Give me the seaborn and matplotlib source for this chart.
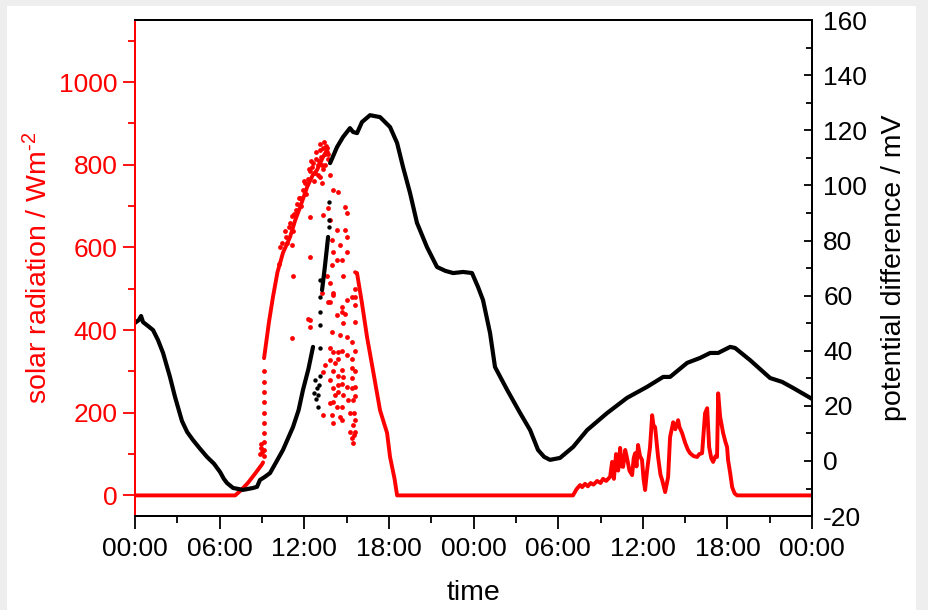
import numpy as np
import pandas as pd
import matplotlib
matplotlib.use("Agg")
import matplotlib.pyplot as plt
from matplotlib.patches import Rectangle
from matplotlib.ticker import MultipleLocator
import seaborn as sns

# ---- time axis (hours since first midnight) ----
tick_hours = [0, 6, 12, 18, 24, 30, 36, 42, 48]
tick_labels = ["00:00", "06:00", "12:00", "18:00", "00:00", "06:00", "12:00", "18:00", "00:00"]

# ---- potential difference (mV), continuous trace, split into segments ----
pd_seg0_h = [0.00, 0.28, 0.43, 0.57, 0.92, 1.28, 1.63, 1.99, 2.48, 2.84, 3.33, 3.70, 4.11,
             4.60, 5.10, 5.60, 6.03, 6.30, 6.52, 6.95, 7.66, 8.37, 8.65, 8.86, 9.20, 9.57,
             10.00, 10.49, 11.20, 11.60, 11.91, 12.30, 12.62]
pd_seg0_v = [50.1, 51.2, 52.6, 50.4, 49.0, 47.5, 43.9, 39.2, 30.5, 23.2, 14.5, 10.5, 7.6,
             4.5, 1.5, -1.0, -4.0, -6.5, -8.0, -9.8, -10.5, -9.8, -9.4, -6.9, -5.8, -4.4,
             -0.5, 4.0, 12.3, 18.5, 25.8, 33.5, 41.4]
pd_seg1_h = [13.26, 13.45, 13.69]
pd_seg1_v = [62.0, 70.0, 81.3]
pd_seg2_h = [13.83, 14.32, 14.75, 15.24, 15.46, 15.74, 16.09, 16.66, 17.37, 18.08, 18.58,
             19.00, 19.50, 19.99, 20.70, 21.41, 22.00, 22.55, 23.26, 23.89, 24.32, 24.67,
             25.17, 25.52, 26.38, 27.30, 28.01, 28.57, 29.00, 29.42, 30.13, 31.06, 32.05,
             33.47, 34.88, 36.30, 37.44, 37.93, 39.14, 40.06, 40.77, 41.34, 42.19, 42.54,
             43.60, 45.02, 45.87, 46.65, 48.00]
pd_seg2_v = [108.1, 113.9, 117.6, 120.8, 119.4, 119.0, 123.0, 125.5, 124.8, 121.2, 115.4,
             106.7, 97.2, 86.4, 77.6, 70.4, 69.0, 68.2, 68.6, 68.2, 63.1, 58.4,
             46.4, 34.1, 25.8, 17.4, 11.2, 4.0, 1.5, 0.4, 1.1, 5.1, 11.2,
             17.4, 22.9, 26.9, 30.5, 30.5, 35.6, 37.4, 39.2, 39.2, 41.4, 41.0,
             36.6, 30.1, 28.7, 26.5, 22.5]
# isolated readings of the potential difference
pd_dots_h = [12.70, 12.76, 12.85, 12.90, 12.95, 13.00, 13.05, 13.10, 13.12, 13.12, 13.12,
             13.12, 13.12, 13.76, 13.76, 13.76]
pd_dots_v = [24.7, 29.4, 22.5, 26.5, 19.5, 24.0, 27.6, 30.8, 41.0, 49.3, 54.0,
             59.5, 65.7, 84.9, 87.4, 94.0]

# ---- solar radiation (W m^-2), continuous trace, split into segments ----
sr_seg0_h = [0.0, 7.1, 7.5, 8.0, 8.5, 9.0, 9.08]
sr_seg0_v = [0, 0, 12, 30, 52, 75, 80]
sr_seg1_h = [9.15, 9.5, 9.78, 10.1, 10.49, 10.99, 11.35, 11.70, 12.2, 12.6, 12.9, 13.33, 13.69]
sr_seg1_v = [332, 420, 480, 540, 587, 625, 665, 697, 746, 775, 787, 819, 840]
sr_seg2_h = [15.60, 15.74, 16.09, 16.45, 16.87, 17.37, 17.87, 18.08, 18.40, 18.58,
             31.05, 31.30, 31.55, 31.70, 31.90, 32.10, 32.30, 32.50, 32.76, 33.00, 33.18,
             33.40, 33.68, 33.82, 33.95, 34.10, 34.25, 34.39, 34.50, 34.60, 34.75, 34.88,
             35.05, 35.24, 35.35, 35.45, 35.55, 35.66, 35.80, 35.94, 36.05, 36.16, 36.30,
             36.51, 36.66, 36.75, 36.87, 37.08, 37.25, 37.37, 37.58, 37.79, 37.93, 38.15,
             38.30, 38.50, 38.60, 38.78, 39.00, 39.20, 39.35, 39.60, 39.85, 40.00, 40.20,
             40.41, 40.56, 40.70, 40.85, 40.98, 41.15, 41.26, 41.34, 41.48, 41.69, 41.85,
             41.97, 42.04, 42.19, 42.33, 42.50, 42.68, 48.00]
sr_seg2_v = [540, 538, 465, 383, 303, 206, 151, 93, 40, 0,
             0, 15, 25, 20, 28, 22, 30, 26, 35, 30, 40,
             35, 45, 81, 40, 100, 60, 115, 70, 69, 110, 90,
             60, 49, 90, 102, 70, 122, 95, 86, 40, 13, 60,
             117, 194, 170, 165, 93, 50, 37, 8, 44, 141, 177,
             160, 182, 165, 151, 127, 110, 102, 95, 93, 100, 102,
             199, 211, 117, 90, 81, 95, 93, 247, 190, 151, 130,
             117, 86, 54, 20, 5, 0, 0]
# isolated readings (cloud passages around noon of the first day)
sr_dots_h = [9.15, 9.15, 9.15, 9.15, 9.15, 9.15, 9.15, 9.15, 9.15, 9.15,
             8.85, 8.90, 8.95, 9.00,
             10.3, 10.6, 10.8, 11.0, 11.2, 11.4, 11.6, 11.8, 12.0, 12.1, 12.3, 12.5,
             12.7, 12.8, 13.0, 13.1, 13.2, 13.4, 13.5, 13.6,
             10.2, 10.45, 10.7, 10.9, 11.1, 11.3, 11.5, 11.7, 11.9, 12.05, 12.25, 12.4,
             12.55, 12.65, 12.75, 12.85, 12.95, 13.05, 13.15, 13.25, 13.35, 13.45, 13.55,
             13.65, 13.7, 13.3, 13.15,
             11.13, 11.20, 12.27, 12.41, 12.41, 12.41, 12.41, 11.10,
             13.26, 13.83, 14.04, 14.39, 13.69, 13.33, 14.89, 15.03, 13.83, 14.32, 14.89,
             15.03, 13.97, 14.53, 14.04, 15.03, 14.32, 14.68, 13.97, 13.61, 14.75, 13.83,
             13.26, 14.04, 13.69, 15.03, 14.68,
             14.04, 13.83, 14.68, 15.39, 14.89, 15.60, 14.32, 14.75, 13.97, 14.53, 15.03,
             15.39, 13.83, 14.04, 14.39, 15.03, 13.47, 13.83, 14.18, 14.68, 15.39, 13.33,
             13.83, 14.75, 15.39, 14.39, 15.03, 15.60, 14.18, 14.75, 15.10, 13.83, 14.32,
             13.33, 13.97, 14.53, 15.24, 14.04, 14.68, 15.60, 15.24, 15.60, 15.39, 15.46,
             14.04, 14.04, 14.04, 14.39, 14.39, 14.39, 14.68, 14.68, 14.68, 15.39, 15.39,
             15.46, 15.46, 15.50, 15.50, 15.60, 15.60, 15.60, 15.60, 15.60, 15.60]
sr_dots_v = [95, 110, 130, 150, 175, 200, 225, 250, 275, 300,
             100, 115, 125, 105,
             600, 640, 610, 660, 640, 690, 720, 700, 760, 730, 790, 810,
             760, 830, 800, 850, 820, 855, 800, 830,
             560, 610, 625, 650, 675, 680, 705, 720, 740, 755, 765, 785,
             795, 805, 780, 815, 775, 810, 835, 800, 840, 825, 845,
             815, 825, 790, 770,
             382, 532, 428, 407, 424, 577, 673, 605,
             755, 775, 739, 734, 695, 678, 698, 683, 666, 642, 642,
             625, 618, 605, 588, 588, 569, 569, 557, 532, 532, 514,
             489, 489, 467, 472, 443,
             485, 468, 456, 480, 440, 460, 436, 417, 395, 388, 383,
             371, 357, 347, 347, 340, 316, 328, 320, 303, 308, 299,
             280, 287, 285, 267, 262, 262, 243, 243, 231, 223, 214,
             195, 195, 190, 199, 175, 182, 182, 153, 153, 138, 126,
             300, 260, 225, 330, 290, 250, 350, 270, 215, 330, 260,
             230, 170, 200, 145, 500, 480, 420, 350, 300, 240]

# ---- tidy tables ----
pd_line = pd.concat([
    pd.DataFrame({"hours": pd_seg0_h, "mV": pd_seg0_v, "seg": 0}),
    pd.DataFrame({"hours": pd_seg1_h, "mV": pd_seg1_v, "seg": 1}),
    pd.DataFrame({"hours": pd_seg2_h, "mV": pd_seg2_v, "seg": 2}),
], ignore_index=True)
pd_dots = pd.DataFrame({"hours": pd_dots_h, "mV": pd_dots_v})
sr_line = pd.concat([
    pd.DataFrame({"hours": sr_seg0_h, "W": sr_seg0_v, "seg": 0}),
    pd.DataFrame({"hours": sr_seg1_h, "W": sr_seg1_v, "seg": 1}),
    pd.DataFrame({"hours": sr_seg2_h, "W": sr_seg2_v, "seg": 2}),
], ignore_index=True)
sr_dots = pd.DataFrame({"hours": sr_dots_h, "W": sr_dots_v})

# ---- styling ----
sns.set_theme(style="ticks")
plt.rcParams["font.family"] = ["Liberation Sans", "DejaVu Sans"]
plt.rcParams["mathtext.fontset"] = "custom"
plt.rcParams["mathtext.rm"] = "Liberation Sans"
plt.rcParams["mathtext.it"] = "Liberation Sans:italic"
plt.rcParams["mathtext.bf"] = "Liberation Sans:bold"
plt.rcParams["axes.unicode_minus"] = False
plt.rcParams["lines.solid_joinstyle"] = "round"
plt.rcParams["lines.solid_capstyle"] = "round"

RED = "#ff0000"
BLACK = "#000000"
TICK_FS = 19
LABEL_FS = 20.5

fig = plt.figure(figsize=(9.29, 6.10), dpi=100, facecolor="#eeeeee")
# white card behind the plot
fig.patches.append(Rectangle((7 / 929, 0), (916 - 7) / 929, (610 - 6) / 610,
                             transform=fig.transFigure, facecolor="white",
                             edgecolor="none", zorder=-10))

ax = fig.add_axes([0.1453, 0.154, 0.7289, 0.813])
ax.set_facecolor("white")

# solar radiation (left axis)
sns.lineplot(data=sr_line, x="hours", y="W", units="seg", estimator=None, sort=False,
             color=RED, linewidth=2.8, ax=ax, legend=False)
sns.scatterplot(data=sr_dots, x="hours", y="W", color=RED, s=12, linewidth=0, ax=ax,
                legend=False)

ax.set_xlim(0, 48)
ax.set_ylim(-50, 1150)
ax.set_xticks(tick_hours)
ax.set_xticklabels(tick_labels, fontsize=TICK_FS, color=BLACK)
ax.xaxis.set_minor_locator(MultipleLocator(3))
ax.set_yticks([0, 200, 400, 600, 800, 1000])
ax.yaxis.set_minor_locator(MultipleLocator(100))
ax.tick_params(axis="y", which="both", colors=RED, labelsize=TICK_FS, direction="out", width=1.3)
ax.tick_params(axis="y", which="major", length=9)
ax.tick_params(axis="y", which="minor", length=5)
ax.tick_params(axis="x", which="both", colors=BLACK, direction="out", width=1.3, pad=6)
ax.tick_params(axis="x", which="major", length=9)
ax.tick_params(axis="x", which="minor", length=5)
ax.set_xlabel("time", fontsize=LABEL_FS, color=BLACK, labelpad=14)
ax.set_ylabel("solar radiation / Wm$^{\u2010 2}$", fontsize=LABEL_FS, color=RED, labelpad=4)

# potential difference (right axis)
ax2 = ax.twinx()
sns.lineplot(data=pd_line, x="hours", y="mV", units="seg", estimator=None, sort=False,
             color=BLACK, linewidth=3.0, ax=ax2, legend=False)
sns.scatterplot(data=pd_dots, x="hours", y="mV", color=BLACK, s=10, linewidth=0, ax=ax2,
                legend=False)
ax2.set_xlim(0, 48)
ax2.set_ylim(-20, 160)
ax2.yaxis.set_major_locator(MultipleLocator(20))
ax2.yaxis.set_minor_locator(MultipleLocator(10))
ax2.tick_params(axis="y", which="both", colors=BLACK, labelsize=TICK_FS, direction="in",
                width=1.3, pad=8)
ax2.tick_params(axis="y", which="major", length=6)
ax2.tick_params(axis="y", which="minor", length=4)
ax2.set_ylabel("potential difference / mV", fontsize=LABEL_FS, color=BLACK, labelpad=10)

for a in (ax, ax2):
    for side in ("top", "bottom", "left", "right"):
        a.spines[side].set_visible(True)
        a.spines[side].set_linewidth(1.4)
        a.spines[side].set_color(BLACK)
ax.spines["left"].set_color(RED)
ax2.spines["left"].set_color(RED)
ax.xaxis.set_ticks_position("bottom")

fig.savefig("out.png", dpi=100, facecolor=fig.get_facecolor())
